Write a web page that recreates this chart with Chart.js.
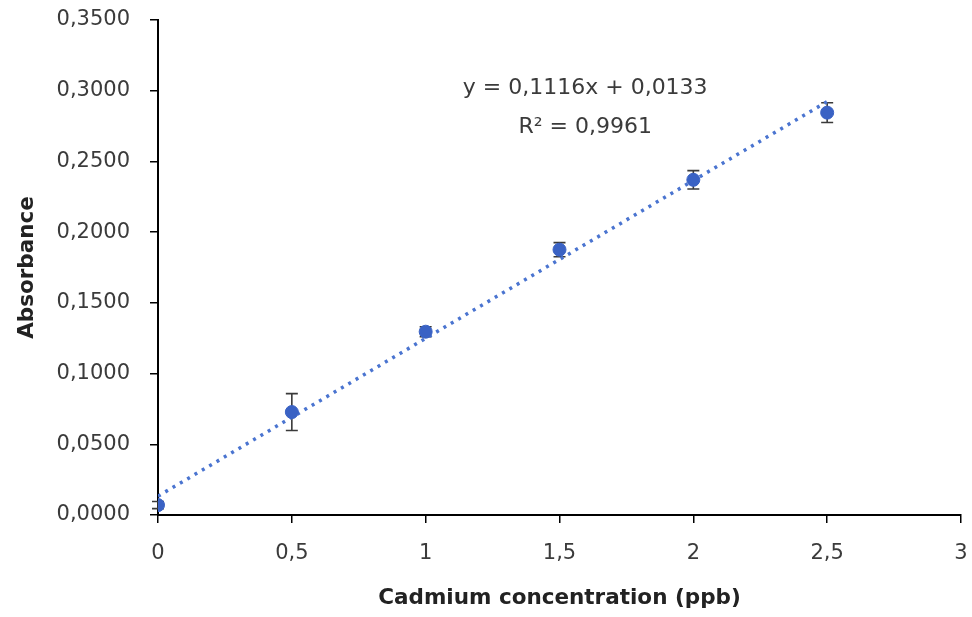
<!DOCTYPE html>
<html>
<head>
<meta charset="utf-8">
<script src="https://cdn.jsdelivr.net/npm/chart.js@4.4.1/dist/chart.umd.min.js"></script>
<style>
  html, body { margin: 0; padding: 0; background: #fff; }
  #wrap { width: 972px; height: 617px; }
</style>
</head>
<body>
<div id="wrap"><canvas id="chart" width="972" height="617"></canvas></div>
<script>
// calibration data
const concentrations = [0, 0.5, 1, 1.5, 2, 2.5];
const absorbance = [0.0070, 0.0728, 0.1296, 0.1876, 0.2370, 0.2845];
const errors = [0.0025, 0.0130, 0.0035, 0.0050, 0.0065, 0.0070];

// linear trendline as printed on the chart
const slope = 0.1116;
const intercept = 0.0133;
const equationText = 'y = 0,1116x + 0,0133';
const r2Text = 'R\u00B2 = 0,9961';

const xTitle = 'Cadmium concentration (ppb)';
const yTitle = 'Absorbance';

const fontFamily = '"DejaVu Sans", "Open Sans", sans-serif';
const blue = '#3a62c4';
const textColor = '#3b3b3b';

const fmtComma = (v, digits) => v.toFixed(digits).replace('.', ',');

// trendline from first to last concentration
const trendX = [concentrations[0], concentrations[concentrations.length - 1]];
const trendPoints = trendX.map(x => ({ x: x, y: slope * x + intercept }));

// error bars drawn with the chart scales, behind the markers
const errorBars = {
  id: 'errorBars',
  beforeDatasetsDraw(chart) {
    const { ctx, scales: { x, y } } = chart;
    ctx.save();
    ctx.strokeStyle = '#3a3a3a';
    ctx.lineWidth = 1.6;
    concentrations.forEach((c, i) => {
      const px = x.getPixelForValue(c);
      const top = y.getPixelForValue(absorbance[i] + errors[i]);
      const bot = y.getPixelForValue(absorbance[i] - errors[i]);
      ctx.beginPath();
      ctx.moveTo(px, top); ctx.lineTo(px, bot);
      ctx.moveTo(px - 6, top); ctx.lineTo(px + 6, top);
      ctx.moveTo(px - 6, bot); ctx.lineTo(px + 6, bot);
      ctx.stroke();
    });
    ctx.restore();
  }
};

// equation label
const equationLabel = {
  id: 'equationLabel',
  afterDraw(chart) {
    const { ctx, chartArea } = chart;
    ctx.save();
    ctx.fillStyle = textColor;
    ctx.font = '22px ' + fontFamily;
    ctx.textAlign = 'center';
    ctx.textBaseline = 'middle';
    const cx = chartArea.left + (chartArea.right - chartArea.left) * 0.532;
    ctx.fillText(equationText, cx, chartArea.top + 68);
    ctx.fillText(r2Text, cx, chartArea.top + 107);
    ctx.restore();
  }
};

new Chart(document.getElementById('chart'), {
  type: 'scatter',
  data: {
    datasets: [
      {
        label: 'Trendline',
        type: 'line',
        data: trendPoints,
        borderColor: '#4a74d0',
        borderWidth: 3.5,
        borderDash: [3, 5.5],
        pointRadius: 0,
        fill: false,
        order: 2
      },
      {
        label: 'Absorbance',
        data: concentrations.map((c, i) => ({ x: c, y: absorbance[i] })),
        backgroundColor: blue,
        borderColor: blue,
        pointRadius: 6.5,
        pointHoverRadius: 6.5,
        order: 1
      }
    ]
  },
  options: {
    responsive: false,
    animation: false,
    layout: { padding: { top: 20, right: 11, left: 10, bottom: 0 } },
    plugins: {
      legend: { display: false },
      tooltip: { enabled: false }
    },
    scales: {
      x: {
        type: 'linear',
        min: 0,
        max: 3,
        ticks: {
          stepSize: 0.5,
          color: textColor,
          font: { family: fontFamily, size: 21 },
          padding: 18,
          maxRotation: 0,
          callback: v => fmtComma(v, v % 1 === 0 ? 0 : 1)
        },
        grid: { drawOnChartArea: false, color: '#000', tickLength: 8, lineWidth: 1.5 },
        border: { color: '#000', width: 2 },
        title: {
          display: true,
          text: xTitle,
          color: '#222',
          font: { family: fontFamily, size: 21.5, weight: 'bold' },
          padding: { top: 10, bottom: 6 }
        },
        afterFit(scale) {
          scale.height = 102;
          scale.paddingLeft = 0;
          scale.paddingRight = 0;
        }
      },
      y: {
        type: 'linear',
        min: 0,
        max: 0.35,
        ticks: {
          stepSize: 0.05,
          color: textColor,
          font: { family: fontFamily, size: 21 },
          padding: 20,
          callback: v => fmtComma(v, 4)
        },
        grid: { drawOnChartArea: false, color: '#000', tickLength: 8, lineWidth: 1.5 },
        border: { color: '#000', width: 2 },
        title: {
          display: true,
          text: yTitle,
          color: '#222',
          font: { family: fontFamily, size: 21.5, weight: 'bold' },
          padding: { top: 5, bottom: 6 }
        },
        afterFit(scale) {
          scale.width = 148;
          scale.paddingTop = 0;
          scale.paddingBottom = 0;
        }
      }
    }
  },
  plugins: [errorBars, equationLabel]
});
</script>
</body>
</html>
